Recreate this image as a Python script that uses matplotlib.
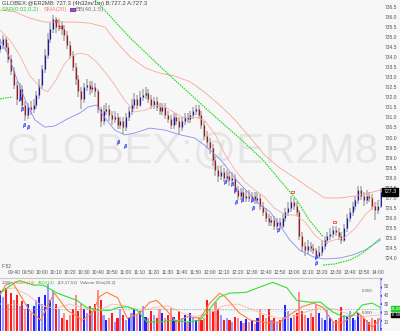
import matplotlib
matplotlib.use('Agg')
import matplotlib.pyplot as plt
import matplotlib.transforms as mtransforms
from matplotlib import font_manager as fm
from matplotlib.patches import Rectangle

# ---------------- data ----------------
first_open = 734.4
closes = [734.6, 734.9, 734.5, 733.9, 733.3, 732.6, 731.9, 732.4, 731.6, 731.1,
          731.5, 731.4, 731.6, 732.1, 732.6, 733.4, 734.1, 734.9, 735.4, 735.9,
          735.5, 735.6, 735.4, 735.1, 734.6, 734.1, 733.5, 732.9, 732.3, 731.9,
          732.5, 732.6, 732.4, 732.5, 732.3, 731.4, 730.8, 731.3, 731.4, 731.1,
          730.9, 731.0, 730.6, 730.8, 730.5, 731.0, 731.3, 731.6, 731.9, 731.6,
          732.0, 732.1, 732.2, 731.9, 731.6, 731.8, 731.5, 731.3, 731.5, 731.1,
          730.9, 730.6, 731.0, 730.8, 730.5, 730.8, 731.0, 730.9, 731.1, 731.3,
          731.4, 731.1, 730.6, 730.1, 729.8, 729.5, 728.9, 728.4, 728.1, 728.3,
          728.0, 728.1, 727.9, 728.0, 727.4, 727.1, 727.3, 727.0, 727.1, 727.0,
          727.1, 726.9, 727.0, 726.6, 726.3, 726.0, 725.8, 725.9, 725.6, 725.8,
          725.6, 726.0, 726.3, 726.5, 726.8, 726.6, 726.3, 725.1, 724.6, 724.4,
          724.6, 724.5, 724.4, 724.1, 724.3, 724.6, 724.9, 725.1, 725.2, 725.4,
          725.3, 725.1, 724.9, 725.5, 726.0, 726.3, 726.6, 726.9, 727.4, 727.1,
          726.9, 727.1, 727.0, 726.6, 726.4, 726.6, 727.3]
highs = [734.9, 735.1, 735.0, 734.7, 734.1, 733.5, 732.8, 732.7, 732.6, 731.8,
         731.7, 731.8, 731.9, 732.3, 732.9, 733.6, 734.4, 735.2, 735.7, 736.1,
         736.0, 735.9, 735.8, 735.6, 735.3, 734.8, 734.3, 733.7, 733.1, 732.5,
         732.7, 732.9, 732.8, 732.8, 732.7, 732.4, 731.5, 731.6, 731.7, 731.6,
         731.3, 731.3, 731.2, 731.0, 731.0, 731.2, 731.5, 731.9, 732.2, 732.1,
         732.3, 732.4, 732.5, 732.4, 732.1, 732.0, 732.0, 731.7, 731.7, 731.7,
         731.3, 731.1, 731.2, 731.2, 731.0, 731.0, 731.2, 731.2, 731.3, 731.5,
         731.6, 731.6, 731.3, 730.8, 730.3, 730.0, 729.7, 729.1, 728.6, 728.6,
         728.5, 728.4, 728.3, 728.3, 728.2, 727.6, 727.5, 727.5, 727.4, 727.4,
         727.3, 727.3, 727.3, 727.2, 726.8, 726.5, 726.2, 726.1, 726.1, 726.0,
         726.0, 726.2, 726.5, 726.8, 727.1, 727.0, 726.8, 726.4, 725.3, 724.8,
         724.9, 724.8, 724.7, 724.5, 724.6, 724.9, 725.1, 725.3, 725.5, 725.6,
         725.6, 725.5, 725.3, 725.7, 726.2, 726.5, 726.8, 727.1, 727.6, 727.6,
         727.3, 727.4, 727.3, 727.2, 726.8, 726.9, 727.5]
lows = [734.2, 734.4, 734.3, 733.7, 733.1, 732.4, 731.6, 731.8, 731.4, 730.8,
        730.9, 731.1, 731.2, 731.4, 731.9, 732.4, 733.2, 733.9, 734.7, 735.2,
        735.2, 735.3, 735.1, 734.8, 734.4, 733.9, 733.3, 732.6, 732.0, 731.4,
        731.7, 732.3, 732.1, 732.2, 732.0, 731.2, 730.5, 730.6, 731.1, 730.8,
        730.6, 730.7, 730.4, 730.4, 730.2, 730.3, 730.8, 731.1, 731.4, 731.4,
        731.5, 731.8, 731.9, 731.7, 731.4, 731.4, 731.3, 731.1, 731.1, 730.9,
        730.7, 730.4, 730.4, 730.6, 730.2, 730.3, 730.6, 730.7, 730.7, 730.9,
        731.1, 730.9, 730.4, 729.9, 729.5, 729.2, 728.6, 728.1, 727.8, 727.9,
        727.8, 727.8, 727.6, 727.7, 727.2, 726.9, 726.9, 726.8, 726.8, 726.8,
        726.8, 726.7, 726.7, 726.4, 726.1, 725.8, 725.6, 725.6, 725.4, 725.4,
        725.4, 725.5, 725.8, 726.1, 726.3, 726.4, 726.1, 724.9, 724.3, 724.1,
        724.2, 724.3, 724.2, 723.9, 724.0, 724.1, 724.4, 724.7, 724.9, 725.0,
        725.1, 724.9, 724.7, 724.8, 725.3, 725.8, 726.1, 726.4, 726.7, 726.9,
        726.6, 726.7, 726.8, 726.4, 725.9, 726.2, 726.5]
volumes = [45, 38, 48, 30, 42, 35, 40, 28, 33,
           25, 30, 20, 28, 35, 38, 30,
           40, 52, 35, 44, 30, 25,
           15, 20, 12, 18,
           25, 40, 22,
           30, 25, 20, 28, 22, 30, 46,
           35, 18, 12, 15, 20, 10, 14, 25, 18, 12, 15,
           20, 25, 18, 22, 28, 16, 14,
           22, 18, 15, 25, 20, 14, 18, 26, 16, 12, 22, 15, 18, 10, 20, 14, 12, 16,
           12, 15, 34, 25, 22,
           32, 25, 18, 12, 15,
           12, 10, 16, 14, 11, 9, 13, 10, 12, 8, 14,
           25, 18, 15, 24, 12, 14, 10,
           12, 16, 29, 22, 15, 18, 20,
           43, 22, 18, 15, 20, 16, 29, 20,
           14, 12, 23, 15, 10, 12, 14, 27, 18,
           16, 22, 14, 12, 20, 18, 15, 12, 10,
           14, 12, 15, 10]
bar_minutes = 2          # minutes per bar, minutes counted from 09:30

# indicator lines (minutes from 09:30, price)
bb_upper_t = [0, 11, 21, 32, 43, 54, 64, 75, 82, 93, 104, 114, 125, 136, 146, 157,
              168, 179, 189, 200, 211, 221, 232, 243, 254, 264, 272]
bb_upper_p = [736.35, 736.25, 735.95, 735.75, 735.75, 735.75, 735.70, 735.50, 734.86,
              734.01, 733.46, 733.21, 733.06, 732.77, 732.27, 731.62, 730.87, 729.98,
              729.13, 728.48, 727.98, 727.49, 726.99, 726.99, 727.09, 727.24, 727.39]
sma_t = [0, 7, 14, 21, 29, 34, 40, 46, 51, 57, 63, 69, 75, 82, 89, 96, 104, 111, 118,
         125, 132, 139, 146, 154, 161, 168, 175, 182, 189, 196, 204, 211, 218, 225,
         232, 239, 246, 254, 261, 268, 272]
sma_p = [735.35, 734.86, 734.11, 733.11, 732.47, 732.27, 732.86, 733.66, 734.06, 734.21,
         734.11, 733.76, 733.26, 732.62, 731.87, 731.27, 731.37, 731.62, 731.52, 731.22,
         730.97, 731.02, 730.87, 730.13, 729.13, 728.38, 727.79, 727.39, 727.04, 726.49,
         726.14, 726.14, 725.79, 725.14, 724.75, 724.90, 725.00, 725.49, 726.14, 726.64,
         726.89]
bb_lower_t = [0, 6, 11, 18, 25, 32, 39, 48, 57, 63, 69, 75, 82, 89, 96, 107, 118, 129,
              139, 146, 154, 159, 169, 179, 186, 193, 200, 207, 214, 224, 232, 243, 252,
              261, 272]
bb_lower_p = [734.86, 734.11, 733.11, 731.87, 730.87, 730.52, 730.57, 730.92, 731.22,
              731.52, 731.62, 730.97, 730.37, 730.13, 730.22, 730.47, 730.37, 730.13,
              729.98, 729.63, 729.13, 728.78, 727.88, 727.14, 726.64, 726.29, 725.64,
              724.90, 724.40, 724.05, 723.95, 724.00, 724.15, 724.40, 724.90]
sar_a_t = [0, 4, 9]
sar_a_p = [731.92, 731.97, 732.02]
sar_b_t = [68, 93, 121, 150, 171, 188, 200, 212, 221, 231]
sar_b_p = [736.85, 734.96, 733.11, 731.27, 729.98, 728.88, 727.88, 726.89, 725.89, 725.05]
sar_c_t = [231, 239, 250, 257, 262, 268, 272]
sar_c_p = [723.65, 723.70, 723.90, 724.15, 724.40, 724.75, 725.00]

# pattern markers
blue_mark_t = [14, 16, 17, 20, 84, 89, 161, 166, 168, 169, 173, 180, 181, 199, 226, 226]
blue_mark_p = [731.9, 731.4, 730.6, 730.5, 729.8, 729.6, 727.8, 727.7, 727.4, 726.8,
               726.9, 726.9, 726.5, 725.4, 724.05, 723.75]
red_mark_t = [40, 43, 209, 239]
red_mark_p = [735.8, 735.5, 727.3, 725.8]

# lower panel lines (minutes, value)
adx_t = [0, 7, 11, 14, 24, 31, 41, 48, 55, 62, 71, 79, 84, 91, 98, 105, 114, 124, 134,
         143, 157, 164, 176, 186, 195, 205, 212, 221, 229, 238, 245, 252, 259, 266, 272]
adx_v = [42, 50, 54, 56, 51, 51, 42, 38, 34, 26, 23, 23, 26, 27, 23, 10, 10, 12, 10,
         12, 38, 42, 43, 49, 54, 48, 34, 32, 32, 21, 16, 17, 29, 31, 26]
stk_t = [0, 4, 9, 21, 29, 36, 39, 48, 59, 66, 71, 76, 84, 91, 100, 107, 112, 119, 126,
         134, 143, 150, 157, 161, 171, 179, 191, 200, 209, 216, 224, 231, 238, 245, 255,
         259, 266, 272]
stk_v = [40, 51, 54, 23, 12, 34, 42, 23, 12, 20, 38, 43, 37, 14, 20, 32, 34, 23, 10,
         16, 14, 31, 42, 38, 20, 12, 9, 10, 20, 27, 31, 26, 10, 9, 21, 16, 4, 14]
std_t = [0, 10, 20, 30, 40, 50, 60, 70, 80, 90, 100, 110, 120, 130, 140, 150, 160, 170,
         180, 190, 200, 210, 220, 230, 240, 250, 260, 272]
std_v = [45, 48, 40, 28, 25, 30, 25, 22, 30, 28, 22, 26, 28, 20, 16, 20, 28, 30, 24,
         18, 14, 16, 22, 26, 24, 18, 16, 18]
cyan_t = [0, 60, 120, 180, 240, 272]
cyan_v = [30, 27, 24, 22, 21, 20]
vol_ref_level = 25

y_ticks = [724.0, 724.5, 725.0, 725.5, 726.0, 726.5, 727.0, 727.5, 728.0, 728.5,
           729.0, 729.5, 730.0, 730.5, 731.0, 731.5, 732.0, 732.5, 733.0, 733.5,
           734.0, 734.5, 735.0, 735.5, 736.0, 736.5]
x_tick_minutes = [10, 20, 30, 40, 50, 60, 70, 80, 90, 100, 110, 120, 130, 140, 150,
                  160, 170, 180, 190, 200, 210, 220, 230, 240, 250, 260, 270]
x_tick_labels = ['09:40', '09:50', '10:00', '10:10', '10:20', '10:30', '10:40', '10:50',
                 '11:00', '11:10', '11:20', '11:30', '11:40', '11:50', '12:00', '12:10',
                 '12:20', '12:30', '12:40', '12:50', '13:00', '13:10', '13:20', '13:30',
                 '13:40', '13:50', '14:00']
low_ticks = [10, 20, 30, 40, 50]
last_price = 727.3
adx_last_label = '24.43'
stk_last_label = '17.60'

# ---------------- styling ----------------
names = {f.name for f in fm.fontManager.ttflist}
NARROW = 'Liberation Sans Narrow' if 'Liberation Sans Narrow' in names else 'Liberation Sans'
plt.rcParams['font.family'] = [NARROW, 'DejaVu Sans']

W, H = 400, 331
BG = '#f7f7f7'
fig = plt.figure(figsize=(W / 100, H / 100), dpi=100, facecolor=BG)

def fx(px):
    return px / W

def fy(py):
    return 1 - py / H

main_bottom = 267
ax = fig.add_axes([0, fy(main_bottom), fx(382), main_bottom / H])
ax2 = fig.add_axes([0, 0, fx(382), 53 / H])
for a in (ax, ax2):
    a.set_facecolor(BG)
    for s in a.spines.values():
        s.set_visible(False)
    a.set_xlim(0, 273)

ppu = 20.08  # pixels per price unit
ax.set_ylim(736.5 - (main_bottom - 7) / ppu, 736.5 + 7 / ppu)

t_bars = [i * bar_minutes for i in range(len(closes))]
opens = [first_open] + closes[:-1]

# watermark
wm = ax.text(0.505, 729.3, 'GLOBEX:@ER2M8',
             transform=mtransforms.blended_transform_factory(ax.transAxes, ax.transData),
             ha='center', va='center', fontsize=40, color='#e6e6e6', zorder=0,
             family=['Liberation Sans', 'DejaVu Sans'])
fig.canvas.draw()
renderer = fig.canvas.get_renderer()
bb = wm.get_window_extent(renderer)
wm.set_fontsize(40 * 372 / bb.width)

# price bars
ax.vlines(t_bars, lows, highs, color='#b8b8b8', lw=1.3, zorder=2)
up_t = [t for t, o, c in zip(t_bars, opens, closes) if c >= o]
up_o = [o for o, c in zip(opens, closes) if c >= o]
up_c = [c for o, c in zip(opens, closes) if c >= o]
dn_t = [t for t, o, c in zip(t_bars, opens, closes) if c < o]
dn_o = [o for o, c in zip(opens, closes) if c < o]
dn_c = [c for o, c in zip(opens, closes) if c < o]
ax.vlines(up_t, up_o, up_c, color='#1a1aa8', lw=0.9, zorder=3)
ax.vlines(dn_t, dn_o, dn_c, color='#a01818', lw=0.9, zorder=3)

# indicator lines
ax.plot(bb_upper_t, bb_upper_p, color='#f5a898', lw=0.6, zorder=4)
ax.plot(sma_t, sma_p, color='#f3b0a6', lw=0.6, zorder=4)
ax.plot(bb_lower_t, bb_lower_p, color='#8c8cf0', lw=0.6, zorder=4)
for tt, pp in ((sar_a_t, sar_a_p), (sar_b_t, sar_b_p), (sar_c_t, sar_c_p)):
    ax.plot(tt, pp, color='#22dd22', lw=0.9, ls=(0, (1.2, 0.8)), zorder=4)

ax.scatter(blue_mark_t, blue_mark_p, marker=r'$\beta$', s=10, color='#2a3cff', lw=0.2, zorder=5)
ax.scatter(red_mark_t, red_mark_p, marker='s', s=3, facecolor='none', edgecolor='#ff2020', lw=0.5, zorder=5)

# axes ticks main
ax.yaxis.tick_right()
ax.set_yticks(y_ticks)
ax.set_yticklabels([f'{v:.1f}' for v in y_ticks])
ax.tick_params(axis='y', length=0, pad=2, labelsize=3.6, labelcolor='#555555')
ax.set_xticks(x_tick_minutes)
ax.set_xticklabels(x_tick_labels)
ax.tick_params(axis='x', length=0, pad=2.0, labelsize=3.6, labelcolor='#555555')

# last price tag
ax.text(1.004, last_price, f'{last_price:.1f}',
        transform=mtransforms.blended_transform_factory(ax.transAxes, ax.transData),
        ha='left', va='center', fontsize=3.8, color='white', zorder=10, clip_on=False,
        bbox=dict(boxstyle='square,pad=0.25', facecolor='black', edgecolor='black'))

# ---------------- lower panel ----------------
ax2.set_ylim(0, 58.9)
vcolors = []
for i, (o, c) in enumerate(zip(opens, closes)):
    if c >= o:
        vcolors.append('#2222ff' if i % 2 == 0 else '#9a9aff')
    else:
        vcolors.append('#ff1a1a' if i % 2 == 0 else '#ff8c8c')
ax2.bar(t_bars, volumes, width=1.5, color=vcolors, zorder=2)
ax2.plot(cyan_t, cyan_v, color='#9fe8e8', lw=0.6, ls=':', zorder=3)
ax2.plot(std_t, std_v, color='#ffb8a8', lw=0.6, zorder=3)
ax2.plot(stk_t, stk_v, color='#ff8040', lw=0.8, zorder=4)
ax2.plot(adx_t, adx_v, color='#33e033', lw=0.8, zorder=4)
ax2.axhline(vol_ref_level, color='#999999', lw=0.5, ls=(0, (2, 2)), zorder=3)
ax2.add_patch(Rectangle((271.3, 0.3), 2.2, 58.3, facecolor='#d0d0ff', edgecolor='#4040ff',
                        lw=0.5, ls=':', hatch='....', zorder=5))
ax2.spines['top'].set_visible(True)
ax2.spines['top'].set_color('#c8c8c8')
ax2.spines['top'].set_linewidth(0.8)
ax2.yaxis.tick_right()
ax2.set_yticks(low_ticks)
ax2.set_yticklabels([str(v) for v in low_ticks])
ax2.tick_params(axis='y', length=0, pad=1.2, labelsize=3.3, labelcolor='#555555')
ax2.set_xticks([])
ax2.text(266, 44.4, '0.000', fontsize=3.2, color='#666666', ha='right', va='center')
ax2.text(266, 20, '0.000', fontsize=3.2, color='#666666', ha='right', va='center')
fig.text(fx(391), fy(308.5), adx_last_label, fontsize=2.9, color='white', va='center',
         ha='left', zorder=10,
         bbox=dict(boxstyle='square,pad=0.12', facecolor='#22cc22', edgecolor='#22cc22'))
fig.text(fx(391), fy(315), stk_last_label, fontsize=2.9, color='white', va='center',
         ha='left', zorder=10,
         bbox=dict(boxstyle='square,pad=0.12', facecolor='black', edgecolor='black'))

# ---------------- header texts ----------------
def ftxt(x, y, s, **kw):
    kw.setdefault('fontsize', 4.2)
    return fig.text(fx(x), fy(y), s, va='center', ha='left', **kw)

def chain(x0, y, items, fontsize, gap=2.5):
    """Place texts one after another on a row, each starting after the previous ends."""
    x = x0
    for s, col in items:
        t = ftxt(x, y, s, color=col, fontsize=fontsize)
        ext = t.get_window_extent(renderer)
        x = ext.x1 + gap

ftxt(2, 3.5, 'GLOBEX:@ER2M8: 727.3 (4h32m/1m) B:727.2 A:727.3', color='#444444')
t_sar = ftxt(2, 9.5, 'SAR(0.02,0.2)', color='#33cc33')
x_after = t_sar.get_window_extent(renderer).x1 + 4
t_sma = ftxt(x_after, 9.5, 'SMA(20)', color='#f08878')
x_icon = t_sma.get_window_extent(renderer).x1 + 3
fig.patches.append(Rectangle((fx(x_icon), fy(11)), fx(5), 3 / H, transform=fig.transFigure,
                             facecolor='#ff4040', edgecolor='#3030ff', lw=0.6))
ftxt(x_icon + 6.5, 9.5, 'BB(40,1.5)', color='#777777')
ftxt(2, 267, 'F-52', color='#555555', fontsize=3.4)
chain(2, 283, [('2008', '#557788'), ('FStoch(14)', '#ff7030'), ('ADX(14)', '#33cc33'),
               ('(19,17,52)', '#666666'), ('Volume 60m(20,2)', '#666666')], fontsize=3.2)

fig.savefig('out.png', dpi=100, facecolor=BG)
